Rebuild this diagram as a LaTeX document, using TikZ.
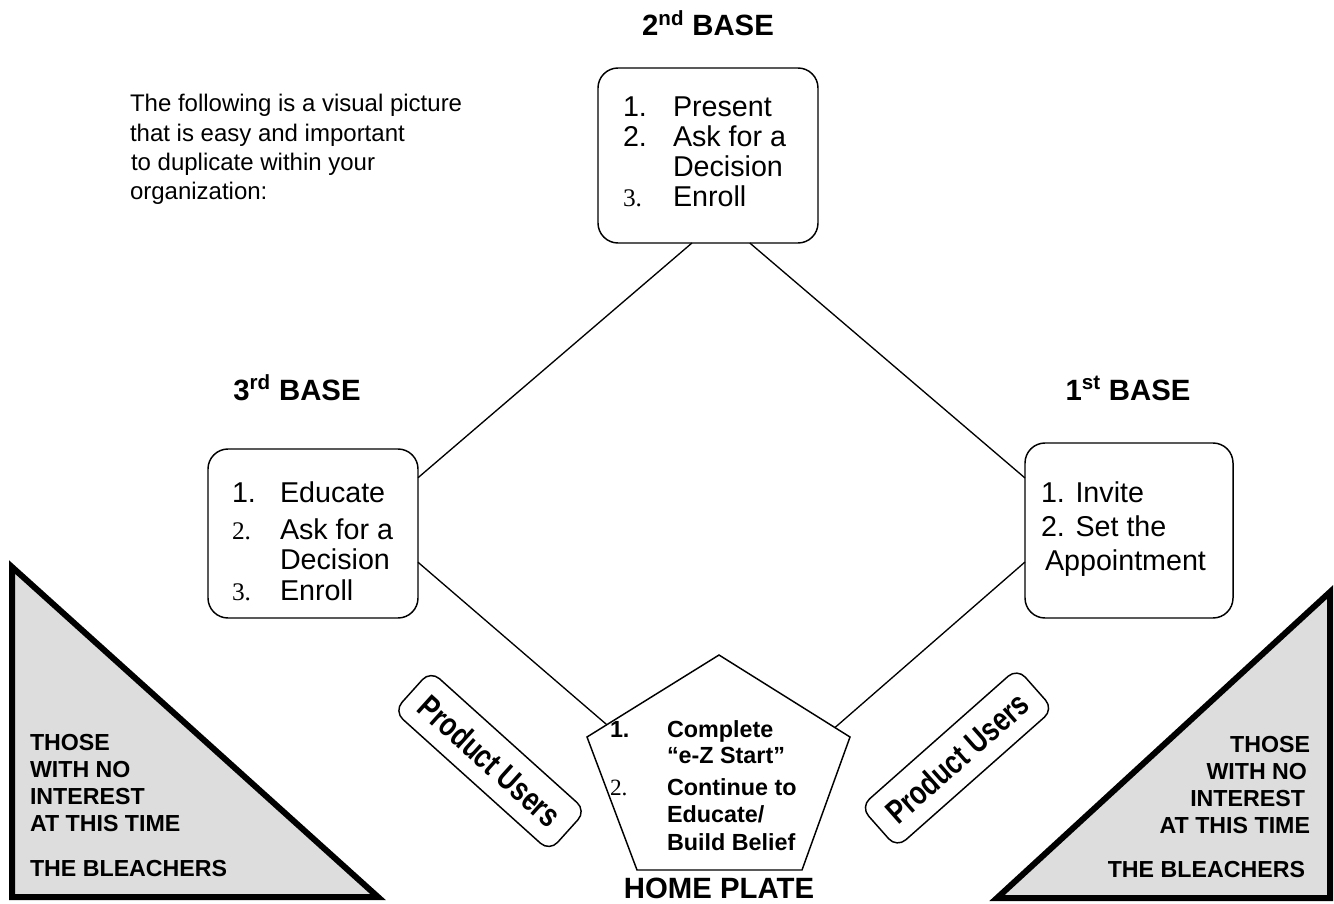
\documentclass[tikz,border=0pt]{standalone}
\usepackage{fontspec}
\usepackage{graphicx}
\setmainfont{Liberation Sans}
\newfontfamily\serifnum{Liberation Serif}
\usetikzlibrary{calc}
\definecolor{bleach}{RGB}{221,221,221}
\newcommand{\putext}{\scalebox{0.78}[1]{Product Users}}
\begin{document}
\begin{tikzpicture}[x=0.75pt,y=-0.75pt,
  every node/.style={inner sep=0pt, outer sep=0pt},
  basebox/.style={draw, line width=1.1pt, rounded corners=15pt},
  pubox/.style={draw, line width=1.1pt, rounded corners=9pt, minimum width=157pt, minimum height=41pt,
    font=\fontsize{25pt}{28pt}\selectfont\bfseries},
  introtxt/.style={anchor=base west, font=\fontsize{18pt}{22pt}\selectfont},
  boxtxt/.style={anchor=base west, font=\fontsize{21.5pt}{25pt}\selectfont},
  boxnum/.style={anchor=base west, font=\fontsize{19pt}{22pt}\selectfont\serifnum},
  lbl/.style={anchor=base, font=\fontsize{22pt}{26pt}\selectfont\bfseries},
  hptxt/.style={anchor=base west, font=\fontsize{17.5pt}{21pt}\selectfont\bfseries},
  hpnum/.style={anchor=base west, font=\fontsize{17.5pt}{21pt}\selectfont\serifnum},
  tritxt/.style={font=\fontsize{17.4pt}{21pt}\selectfont\bfseries},
  tri/.style={draw, line width=4.5pt, fill=bleach, line join=miter},
  link/.style={line width=1pt}]
\useasboundingbox (0,0) rectangle (1334,903);

% intro text
\node[introtxt] (i1) at (130,111) {The following is a visual picture};
\node[introtxt] (i2) at (130,141) {that is easy and important};
\node[introtxt] (i3) at (131,170) {to duplicate within your};
\node[introtxt] (i4) at (130,199) {organization:};

% labels
\node[lbl] (l2) at (708,36) {2\textsuperscript{nd} BASE};
\node[lbl] (l3) at (297,400) {3\textsuperscript{rd} BASE};
\node[lbl] (l1) at (1128,400) {1\textsuperscript{st} BASE};
\node[lbl] (lh) at (719,898) {HOME PLATE};

% bases
\node[basebox, minimum width=165pt, minimum height=131.25pt] (second) at (708,155.5) {};
\node[basebox, minimum width=157.5pt, minimum height=126.75pt] (third) at (313,533.5) {};
\node[basebox, minimum width=156pt, minimum height=131.25pt] (first) at (1129,530.5) {};

% second base text
\node[boxtxt] (s1n) at (623,116) {1.};
\node[boxtxt] (s1) at (673,116) {Present};
\node[boxtxt] (s2n) at (623,146) {2.};
\node[boxtxt] (s2) at (673,146) {Ask for a};
\node[boxtxt] (s2b) at (673,176) {Decision};
\node[boxnum] (s3n) at (623,206) {3.};
\node[boxtxt] (s3) at (673,206) {Enroll};

% third base text
\node[boxtxt] (t1n) at (232,502) {1.};
\node[boxtxt] (t1) at (280,502) {Educate};
\node[boxnum] (t2n) at (232,539) {2.};
\node[boxtxt] (t2) at (280,539) {Ask for a};
\node[boxtxt] (t2b) at (280,569) {Decision};
\node[boxnum] (t3n) at (232,600) {3.};
\node[boxtxt] (t3) at (280,600) {Enroll};

% first base text
\node[boxtxt] (f1) at (1041,502) {1. Invite};
\node[boxtxt] (f2) at (1041,536) {2. Set the};
\node[boxtxt] (f3) at (1045,570) {Appointment};

% home plate
\coordinate (hpT) at (719,655);
\coordinate (hpR) at (850,737);
\coordinate (hpBR) at (802,870);
\coordinate (hpBL) at (637,870);
\coordinate (hpL) at (587,737);
\draw[line width=1.1pt] (hpT) -- (hpR) -- (hpBR) -- (hpBL) -- (hpL) -- cycle;
\node[hptxt] (h1n) at (610,737) {1.};
\node[hptxt] (h1) at (667,737) {Complete};
\node[hptxt] (h1b) at (667,763) {“e-Z Start”};
\node[hpnum] (h2n) at (610,795) {2.};
\node[hptxt] (h2) at (667,795) {Continue to};
\node[hptxt] (h2b) at (667,822) {Educate/};
\node[hptxt] (h2c) at (667,850) {Build Belief};

% connectors
\draw[link] ($(second.south west)!0.427!(second.south east)$) -- ($(third.north east)!0.17!(third.south east)$);
\draw[link] ($(second.south west)!0.69!(second.south east)$) -- ($(first.north west)!0.2!(first.south west)$);
\draw[link] ($(third.north east)!0.67!(third.south east)$) -- ($(hpT)!0.85!(hpL)$);
\draw[link] ($(first.north west)!0.68!(first.south west)$) -- ($(hpT)!0.885!(hpR)$);

% product users
\node[pubox, rotate=-42] (pu1) at (490,761) {\putext};
\node[pubox, rotate=41.5] (pu2) at (957,758) {\putext};

% bleachers
\coordinate (lA) at (12,567);
\coordinate (lB) at (12,897);
\coordinate (lC) at (378,897);
\draw[tri] (lA) -- (lB) -- (lC) -- cycle;
\coordinate (rA) at (1330,592);
\coordinate (rB) at (1330,898);
\coordinate (rC) at (997,898);
\draw[tri] (rA) -- (rB) -- (rC) -- cycle;

\node[tritxt, anchor=base west] (lt1) at (30,750) {THOSE};
\node[tritxt, anchor=base west] (lt2) at (30,777) {WITH NO};
\node[tritxt, anchor=base west] (lt3) at (30,804) {INTEREST};
\node[tritxt, anchor=base west] (lt4) at (30,831) {AT THIS TIME};
\node[tritxt, anchor=base west] (lt5) at (30,876) {THE BLEACHERS};

\node[tritxt, anchor=base east] (rt1) at (1310,752) {THOSE};
\node[tritxt, anchor=base east] (rt2) at (1307,779) {WITH NO};
\node[tritxt, anchor=base east] (rt3) at (1305,806) {INTEREST};
\node[tritxt, anchor=base east] (rt4) at (1310,833) {AT THIS TIME};
\node[tritxt, anchor=base east] (rt5) at (1305,877) {THE BLEACHERS};
\end{tikzpicture}
\end{document}
